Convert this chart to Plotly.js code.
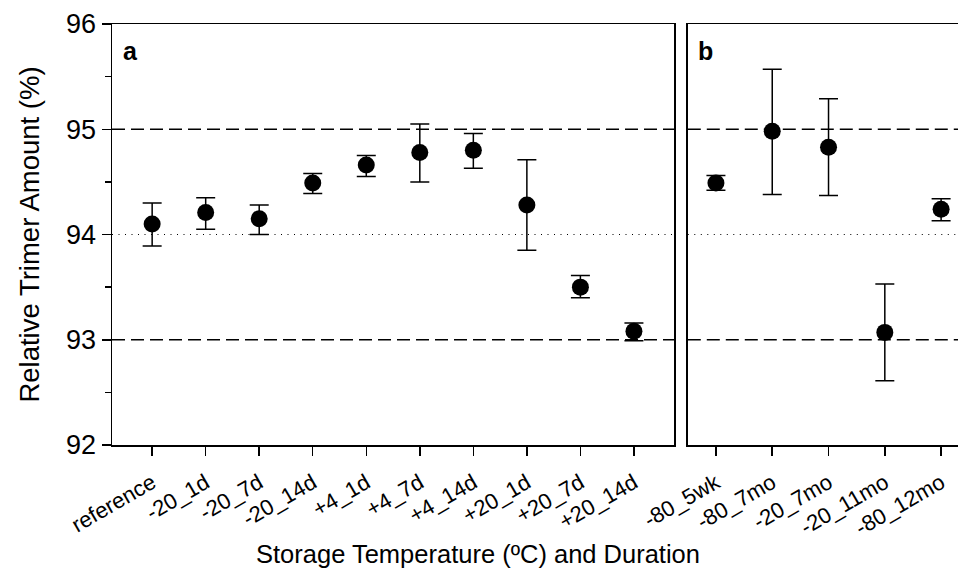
<!DOCTYPE html>
<html>
<head>
<meta charset="utf-8">
<script src="https://cdn.plot.ly/plotly-3.0.1.min.js"></script>
<style>html,body{margin:0;padding:0;background:#fff;} #chart{width:958px;height:579px;}</style>
</head>
<body>
<div id="chart"></div>
<script>
// Panel a
var catsA = ["reference", "-20_1d", "-20_7d", "-20_14d", "+4_1d", "+4_7d", "+4_14d", "+20_1d", "+20_7d", "+20_14d"];
var meanA = [94.10, 94.21, 94.15, 94.49, 94.66, 94.78, 94.80, 94.28, 93.50, 93.08];
var upperA = [94.30, 94.35, 94.28, 94.58, 94.75, 95.05, 94.96, 94.71, 93.61, 93.16];
var lowerA = [93.89, 94.05, 94.00, 94.39, 94.55, 94.50, 94.63, 93.85, 93.40, 92.99];
// Panel b
var catsB = ["-80_5wk", "-80_7mo", "-20_7mo", "-20_11mo", "-80_12mo"];
var meanB = [94.49, 94.98, 94.83, 93.07, 94.24];
var upperB = [94.56, 95.57, 95.29, 93.53, 94.34];
var lowerB = [94.42, 94.38, 94.37, 92.61, 94.13];
// Reference lines
var dashedLevels = [95, 93];
var dottedLevels = [94];
var yTicks = [92, 93, 94, 95, 96];

function diff(a, b) { return a.map(function (v, i) { return v - b[i]; }); }

var font = "Liberation Sans, Arial, sans-serif";
var markerStyle = { color: "#000", size: 17, symbol: "circle" };
function errStyle(up, lo, mean) {
  return { type: "data", symmetric: false, array: diff(up, mean), arrayminus: diff(mean, lo),
           color: "#000", thickness: 1.5, width: 9.5 };
}

var traces = [
  { x: catsA, y: meanA, type: "scatter", mode: "markers", marker: markerStyle,
    error_y: errStyle(upperA, lowerA, meanA), xaxis: "x", yaxis: "y", hoverinfo: "x+y", showlegend: false },
  { x: catsB, y: meanB, type: "scatter", mode: "markers", marker: markerStyle,
    error_y: errStyle(upperB, lowerB, meanB), xaxis: "x2", yaxis: "y2", hoverinfo: "x+y", showlegend: false }
];

var shapes = [];
["x", "x2"].forEach(function (xa) {
  var ya = xa === "x" ? "y" : "y2";
  dashedLevels.forEach(function (lv) {
    shapes.push({ type: "line", xref: xa + " domain", yref: ya, x0: 0, x1: 1, y0: lv, y1: lv,
                  line: { color: "#000", width: 1.7, dash: "13px,6px" }, layer: "below" });
  });
  dottedLevels.forEach(function (lv) {
    shapes.push({ type: "line", xref: xa + " domain", yref: ya, x0: 0, x1: 1, y0: lv, y1: lv,
                  line: { color: "#000", width: 1.2, dash: "1px,5.5px" }, layer: "below" });
  });
});

var xCommon = {
  type: "category", showline: true, linecolor: "#000", linewidth: 1.5, mirror: true,
  ticks: "outside", ticklen: 9, tickwidth: 1.5, tickcolor: "#000", tickangle: -30,
  ticklabelstandoff: 6,
  tickfont: { family: font, size: 22, color: "#000" }, showgrid: false, zeroline: false, fixedrange: true
};

var layout = {
  width: 958, height: 579,
  margin: { l: 112, r: 0, t: 24, b: 134, pad: 0 },
  paper_bgcolor: "#fff", plot_bgcolor: "#fff",
  font: { family: font, color: "#000" },
  showlegend: false,
  xaxis: Object.assign({}, xCommon, { domain: [0, 0.6644], range: [-0.75, 9.75], anchor: "y" }),
  xaxis2: Object.assign({}, xCommon, { domain: [0.6806, 1], range: [-0.5, 4.3], anchor: "y2" }),
  yaxis: {
    range: [92, 96], tickvals: yTicks, ticktext: yTicks.map(String),
    showline: true, linecolor: "#000", linewidth: 1.5, mirror: true,
    ticks: "outside", ticklen: 9, tickwidth: 1.5, tickcolor: "#000",
    minor: { dtick: 0.5, ticks: "outside", ticklen: 6, tickwidth: 1.5, tickcolor: "#000", showgrid: false },
    tickfont: { family: font, size: 27, color: "#000" },
    showgrid: false, zeroline: false, anchor: "x", fixedrange: true,
    title: { text: "Relative Trimer Amount (%)", font: { family: font, size: 27.5, color: "#000" }, standoff: 18 }
  },
  yaxis2: {
    range: [92, 96], showline: true, linecolor: "#000", linewidth: 1.5, mirror: false,
    ticks: "", showticklabels: false, showgrid: false, zeroline: false, anchor: "x2", fixedrange: true
  },
  shapes: shapes,
  annotations: [
    { text: "<b>a</b>", xref: "x domain", yref: "y domain", x: 0.016, y: 0.975, xanchor: "left", yanchor: "top",
      showarrow: false, font: { family: font, size: 25, color: "#000" } },
    { text: "<b>b</b>", xref: "x2 domain", yref: "y2 domain", x: 0.03, y: 0.975, xanchor: "left", yanchor: "top",
      showarrow: false, font: { family: font, size: 25, color: "#000" } },
    { text: "Storage Temperature (ºC) and Duration", xref: "paper", yref: "paper",
      x: 0.433, y: -0.26, xanchor: "center", yanchor: "middle", showarrow: false,
      font: { family: font, size: 25.5, color: "#000" } }
  ]
};

Plotly.newPlot("chart", traces, layout, { displayModeBar: false, staticPlot: true });
</script>
</body>
</html>
